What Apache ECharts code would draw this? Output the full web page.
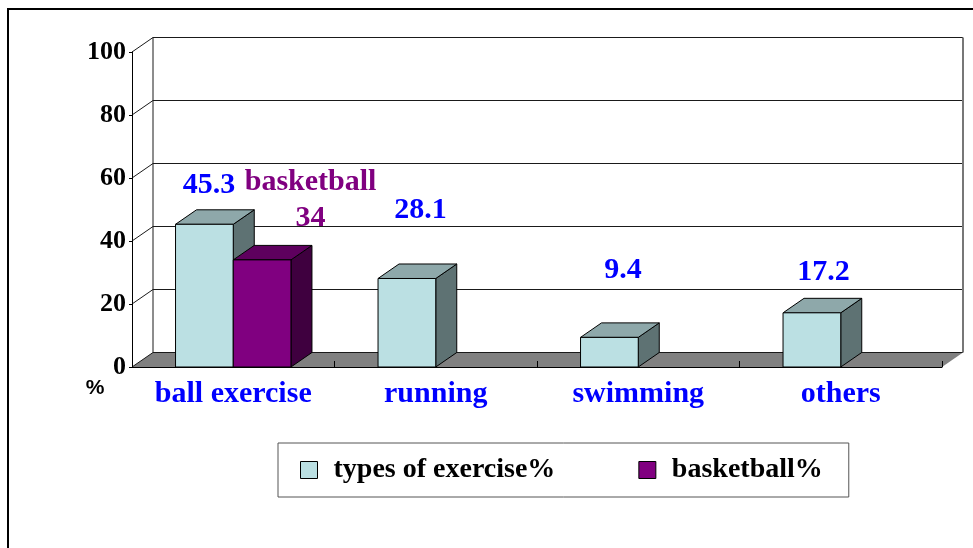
<!DOCTYPE html>
<html>
<head>
<meta charset="utf-8">
<script src="https://cdn.jsdelivr.net/npm/echarts@6/dist/echarts.min.js"></script>
<style>
html,body{margin:0;padding:0;background:#fff;}
#chart{width:973px;height:548px;}
</style>
</head>
<body>
<div id="chart"></div>
<script>
// ---- data ----
const categories = ['ball exercise', 'running', 'swimming', 'others'];
const exerciseValues = [45.3, 28.1, 9.4, 17.2];
const basketballValues = [34, null, null, null];
const exerciseLabels = ['45.3', '28.1', '9.4', '17.2'];
const basketballLabels = ['basketball\n34', '', '', ''];
const yTicks = [0, 20, 40, 60, 80, 100];
const seriesNames = ['types of exercise%', 'basketball%'];

// ---- styling ----
const SERIF = 'Liberation Serif, Times New Roman, serif';
const DX = 21, DY = -14.5;
const palette = [
  { front: '#BBE0E3', top: '#8EA8AA', side: '#5E7273', text: '#0000FF' },
  { front: '#800080', top: '#5E005E', side: '#3F003F', text: '#800080' }
];
const labelShift = [
  [[-6, -25], [3, -54], [3, -53], [1, -26]],
  [[38, -45], [0, 0], [0, 0], [0, 0]]
];

function barRenderer(sIdx, labels) {
  const c = palette[sIdx];
  return function (params, api) {
    const i = api.value(0), v = api.value(1);
    const top = api.coord([i, v]);
    const base = api.coord([i, 0]);
    const band = api.size([1, 0])[0];
    const w = band * 0.285;
    const x0 = sIdx === 0 ? top[0] - w : top[0];
    const x1 = x0 + w, yt = top[1], yb = base[1];
    const st = { stroke: '#000', lineWidth: 1 };
    const ax = (x0 + x1) / 2 + DX / 2, ay = yt + DY;
    const sh = labelShift[sIdx][i];
    return {
      type: 'group',
      children: [
        { type: 'polygon', shape: { points: [[x1, yt], [x1 + DX, yt + DY], [x1 + DX, yb + DY], [x1, yb]] },
          style: Object.assign({ fill: c.side }, st) },
        { type: 'polygon', shape: { points: [[x0, yt], [x1, yt], [x1 + DX, yt + DY], [x0 + DX, yt + DY]] },
          style: Object.assign({ fill: c.top }, st) },
        { type: 'rect', shape: { x: x0, y: yt, width: w, height: yb - yt },
          style: Object.assign({ fill: c.front }, st) },
        { type: 'text', x: ax + sh[0], y: ay + sh[1], z2: 10,
          style: { text: labels[i], fill: c.text, font: 'bold 30px ' + SERIF,
                   align: 'center', verticalAlign: 'middle', lineHeight: 36 } }
      ]
    };
  };
}

function wallRenderer(params, api) {
  const cs = params.coordSys;
  const xl = cs.x, xr = cs.x + cs.width;
  const children = [];
  const yTop = api.coord([0, yTicks[yTicks.length - 1]])[1];
  const yBot = api.coord([0, 0])[1];
  // floor
  children.push({ type: 'polygon',
    shape: { points: [[xl, yBot], [xr, yBot], [xr + DX, yBot + DY], [xl + DX, yBot + DY]] },
    style: { fill: '#808080', stroke: null } });
  yTicks.forEach(function (t) {
    const y = api.coord([0, t])[1];
    children.push({ type: 'line', shape: { x1: xl + DX, y1: y + DY, x2: xr + DX, y2: y + DY },
      style: { stroke: '#1a1a1a', lineWidth: 1 } });
    children.push({ type: 'line', shape: { x1: xl, y1: y, x2: xl + DX, y2: y + DY },
      style: { stroke: '#1a1a1a', lineWidth: 1 } });
  });
  children.push({ type: 'line', shape: { x1: xl + DX, y1: yTop + DY, x2: xl + DX, y2: yBot + DY },
    style: { stroke: '#1a1a1a', lineWidth: 1 } });
  children.push({ type: 'line', shape: { x1: xr + DX, y1: yTop + DY, x2: xr + DX, y2: yBot + DY },
    style: { stroke: '#777', lineWidth: 2 } });
  return { type: 'group', children: children };
}

const chart = echarts.init(document.getElementById('chart'), null, { renderer: 'canvas' });
chart.setOption({
  backgroundColor: '#fff',
  animation: false,
  grid: { left: 132, right: 31, top: 52, bottom: 181 },
  xAxis: {
    type: 'category', data: categories, z: 5,
    axisLine: { show: true, lineStyle: { color: '#000', width: 1 } },
    axisTick: { show: true, inside: true, length: 6, interval: 0, lineStyle: { color: '#000' } },
    axisLabel: { color: '#0000FF', fontFamily: SERIF, fontWeight: 'bold', fontSize: 30, margin: 12,
                 interval: 0, hideOverlap: false },
    splitLine: { show: false }
  },
  yAxis: {
    type: 'value', min: 0, max: 100, interval: 20, z: 5,
    axisLine: { show: true, lineStyle: { color: '#000', width: 1 } },
    axisTick: { show: true, length: 3, lineStyle: { color: '#000' } },
    axisLabel: { color: '#000', fontFamily: SERIF, fontWeight: 'bold', fontSize: 26, margin: 6 },
    splitLine: { show: false }
  },
  legend: {
    data: seriesNames, left: 278, top: 443, orient: 'horizontal',
    icon: 'rect', itemWidth: 17, itemHeight: 17, itemGap: 83,
    padding: [13, 26, 13, 22],
    borderColor: '#555', borderWidth: 1,
    itemStyle: { borderColor: '#000', borderWidth: 1 },
    textStyle: { color: '#000', fontFamily: SERIF, fontWeight: 'bold', fontSize: 28, lineHeight: 28,
                 padding: [0, 0, 0, 11] }
  },
  graphic: [
    { type: 'rect', shape: { x: 8, y: 9, width: 1000, height: 600 }, z: -10,
      style: { fill: null, stroke: '#000', lineWidth: 2 } },
    { type: 'text', x: 95, y: 388, style: { text: '%', font: 'bold 21px Liberation Sans, Arial, sans-serif',
      fill: '#000', align: 'center', verticalAlign: 'middle' } }
  ],
  series: [
    { type: 'custom', name: 'walls', z: 1, silent: true, data: [[0, 0]], encode: { x: 0, y: 1 },
      renderItem: wallRenderer },
    { type: 'custom', name: seriesNames[0], z: 2, encode: { x: 0, y: 1 },
      itemStyle: { color: palette[0].front, borderColor: '#000', borderWidth: 1 },
      data: exerciseValues.map(function (v, i) { return [i, v]; }),
      renderItem: barRenderer(0, exerciseLabels) },
    { type: 'custom', name: seriesNames[1], z: 3, encode: { x: 0, y: 1 },
      itemStyle: { color: palette[1].front, borderColor: '#000', borderWidth: 1 },
      data: basketballValues.map(function (v, i) { return [i, v]; }).filter(function (d) { return d[1] != null; }),
      renderItem: barRenderer(1, basketballLabels) }
  ]
});
</script>
</body>
</html>
